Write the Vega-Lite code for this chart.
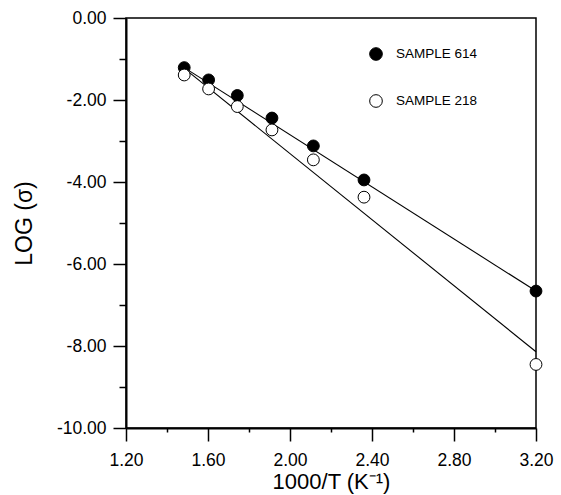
{
  "$schema": "https://vega.github.io/schema/vega-lite/v6.json",
  "width": 410,
  "height": 410,
  "autosize": {"type": "none"},
  "padding": {"left": 126, "top": 18, "right": 25, "bottom": 67},
  "background": "white",
  "config": {
    "font": "Liberation Sans",
    "view": {"stroke": "black", "strokeWidth": 1.5},
    "axis": {
      "domainColor": "black", "domainWidth": 2, "tickColor": "black", "tickWidth": 1.5,
      "labelColor": "black", "labelFont": "Liberation Sans",
      "titleColor": "black", "titleFont": "Liberation Sans", "titleFontWeight": "normal",
      "grid": false
    }
  },
  "datasets": {
    "points": [
      {"sample": "SAMPLE 614", "x": 1.484, "y": -1.21},
      {"sample": "SAMPLE 614", "x": 1.603, "y": -1.51},
      {"sample": "SAMPLE 614", "x": 1.743, "y": -1.89},
      {"sample": "SAMPLE 614", "x": 1.912, "y": -2.44},
      {"sample": "SAMPLE 614", "x": 2.114, "y": -3.12},
      {"sample": "SAMPLE 614", "x": 2.361, "y": -3.95},
      {"sample": "SAMPLE 614", "x": 3.2, "y": -6.66},
      {"sample": "SAMPLE 218", "x": 1.484, "y": -1.39},
      {"sample": "SAMPLE 218", "x": 1.603, "y": -1.73},
      {"sample": "SAMPLE 218", "x": 1.743, "y": -2.16},
      {"sample": "SAMPLE 218", "x": 1.912, "y": -2.73},
      {"sample": "SAMPLE 218", "x": 2.114, "y": -3.46},
      {"sample": "SAMPLE 218", "x": 2.361, "y": -4.37},
      {"sample": "SAMPLE 218", "x": 3.2, "y": -8.45}
    ],
    "fits": [
      {"sample": "SAMPLE 614", "x": 1.484, "y": -1.21},
      {"sample": "SAMPLE 614", "x": 3.2, "y": -6.66},
      {"sample": "SAMPLE 218", "x": 1.484, "y": -1.23},
      {"sample": "SAMPLE 218", "x": 3.2, "y": -8.14}
    ]
  },
  "layer": [
    {
      "data": {"name": "fits"},
      "mark": {"type": "line", "color": "black", "strokeWidth": 1.1},
      "encoding": {
        "x": {
          "field": "x", "type": "quantitative",
          "scale": {"domain": [1.2, 3.2], "nice": false, "zero": false},
          "axis": {
            "title": "1000/T (K⁻¹)",
            "titleFontSize": 22,
            "labelFontSize": 17.5,
            "values": [1.2, 1.4, 1.6, 1.8, 2.0, 2.2, 2.4, 2.6, 2.8, 3.0, 3.2],
            "tickSize": {"condition": {"test": "round(datum.value*10) % 4 === 0", "value": 13}, "value": 4},
            "labelExpr": "round(datum.value*10) % 4 === 0 ? format(datum.value, '.2f') : ''",
            "labelPadding": 10,
            "titlePadding": 3,
            "labelFlush": false,
            "labelOverlap": false
          }
        },
        "y": {
          "field": "y", "type": "quantitative",
          "scale": {"domain": [-10, 0], "nice": false, "zero": false},
          "axis": {
            "title": "LOG (σ)",
            "titleFontSize": 23,
            "labelFontSize": 17.5,
            "values": [0, -1, -2, -3, -4, -5, -6, -7, -8, -9, -10],
            "tickSize": {"condition": {"test": "datum.value % 2 === 0", "value": 13}, "value": 7},
            "labelExpr": "datum.value % 2 === 0 ? (datum.value < 0 ? '-' : '') + format(abs(datum.value), '.2f') : ''",
            "labelPadding": 7,
            "titlePadding": 20,
            "labelFlush": false,
            "labelOverlap": false
          }
        },
        "detail": {"field": "sample"}
      }
    },
    {
      "data": {"name": "points"},
      "mark": {"type": "point", "filled": false, "shape": "circle", "size": 140, "stroke": "black", "strokeWidth": 1, "opacity": 1},
      "encoding": {
        "x": {"field": "x", "type": "quantitative"},
        "y": {"field": "y", "type": "quantitative"},
        "fill": {
          "field": "sample", "type": "nominal",
          "scale": {"domain": ["SAMPLE 614", "SAMPLE 218"], "range": ["black", "white"]},
          "legend": {
            "title": null,
            "orient": "none",
            "legendX": 243,
            "legendY": 29,
            "padding": 0,
            "symbolType": "circle",
            "symbolSize": 160,
            "symbolStrokeColor": "black",
            "symbolStrokeWidth": 1,
            "symbolFillColor": "black",
            "labelFont": "Liberation Sans",
            "labelFontSize": 13.5,
            "labelColor": "black",
            "labelOffset": 13,
            "rowPadding": 29
          }
        },
        "fillOpacity": {"value": 1}
      }
    }
  ]
}
